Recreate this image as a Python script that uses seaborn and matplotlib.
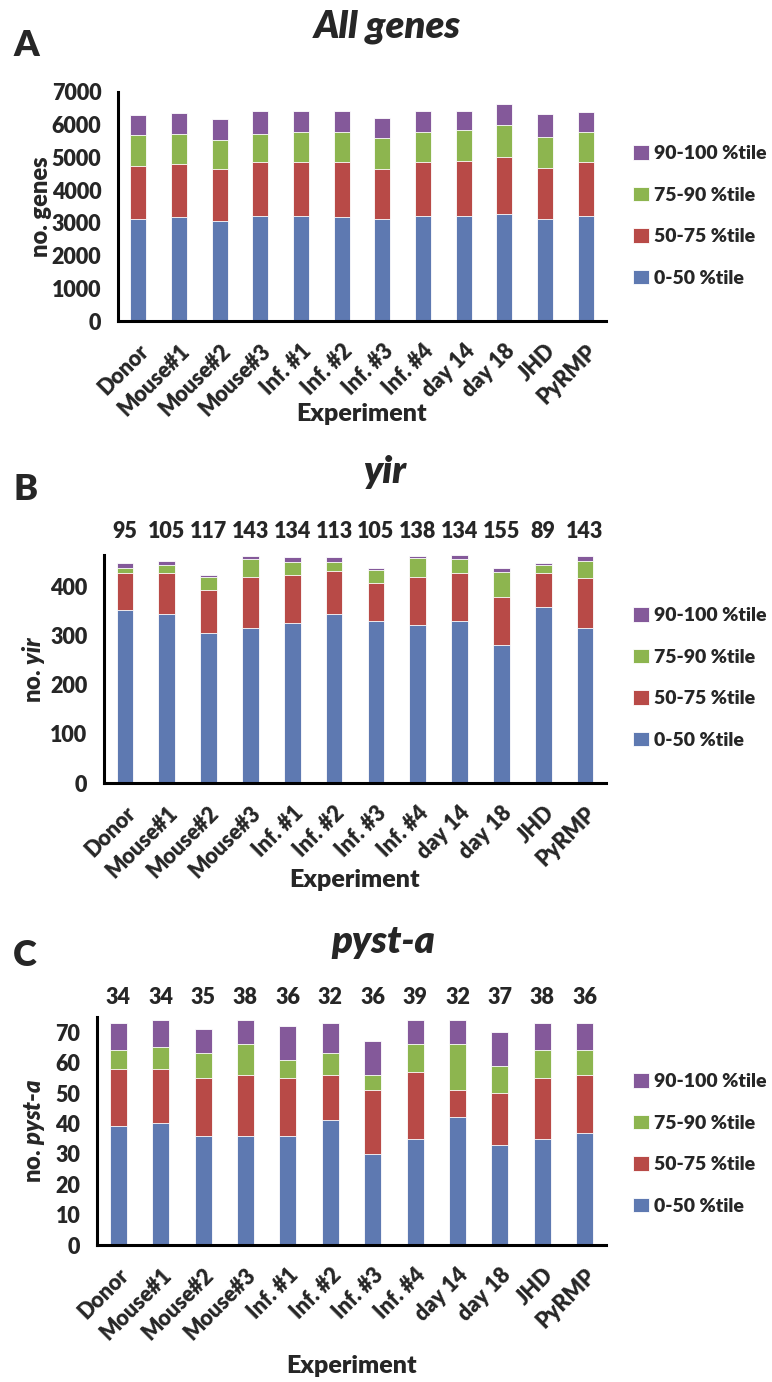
import numpy as np
import pandas as pd
import matplotlib
matplotlib.use('Agg')
import matplotlib.pyplot as plt
import matplotlib.transforms as mtransforms
from matplotlib.patches import Patch
import seaborn as sns

# categories
experiments = ['Donor', 'Mouse#1', 'Mouse#2', 'Mouse#3', 'Inf. #1', 'Inf. #2',
               'Inf. #3', 'Inf. #4', 'day 14', 'day 18', 'JHD', 'PyRMP']
tiles = ['0-50 %tile', '50-75 %tile', '75-90 %tile', '90-100 %tile']
colors = ['#5E79B1', '#B84A47', '#8DB54F', '#84599A']

# A - all genes (segment sizes, bottom to top)
all_0_50 = [3120, 3170, 3070, 3220, 3220, 3170, 3120, 3220, 3220, 3280, 3120, 3220]
all_50_75 = [1620, 1620, 1570, 1630, 1630, 1680, 1520, 1630, 1680, 1720, 1570, 1630]
all_75_90 = [940, 940, 890, 880, 930, 930, 940, 930, 930, 990, 940, 930]
all_90_100 = [620, 640, 630, 690, 640, 640, 630, 640, 590, 630, 690, 620]

# B - yir
yir_0_50 = [352, 344, 306, 317, 327, 344, 330, 323, 330, 281, 359, 317]
yir_50_75 = [76, 84, 88, 104, 97, 88, 77, 98, 98, 98, 69, 101]
yir_75_90 = [10, 17, 26, 35, 27, 19, 28, 38, 28, 52, 17, 34]
yir_90_100 = [11, 7, 4, 6, 9, 9, 4, 4, 10, 7, 4, 10]
yir_counts = [95, 105, 117, 143, 134, 113, 105, 138, 134, 155, 89, 143]

# C - pyst-a
pyst_0_50 = [39, 40, 36, 36, 36, 41, 30, 35, 42, 33, 35, 37]
pyst_50_75 = [19, 18, 19, 20, 19, 15, 21, 22, 9, 17, 20, 19]
pyst_75_90 = [6, 7, 8, 10, 6, 7, 5, 9, 15, 9, 9, 8]
pyst_90_100 = [9, 9, 8, 8, 11, 10, 11, 8, 8, 11, 9, 9]
pyst_counts = [34, 34, 35, 38, 36, 32, 36, 39, 32, 37, 38, 36]

W, H = 772, 1382
WT = 'heavy'
sns.set_style('white')
plt.rcParams['font.family'] = ['Lato', 'DejaVu Sans']
plt.rcParams['font.weight'] = WT
plt.rcParams['axes.labelweight'] = WT
plt.rcParams['mathtext.fontset'] = 'custom'
plt.rcParams['mathtext.rm'] = 'Lato:' + WT
plt.rcParams['mathtext.it'] = 'Lato:italic:' + WT

fig = plt.figure(figsize=(W / 100, H / 100), dpi=100)


def fx(px):
    return px / W


def fy(py):
    return 1 - py / H


def panel(box, segs, ylim, yticks, minor, title, letter, ylabel, counts, pos):
    left, top, right, bottom = box
    ax = fig.add_axes([fx(left), fy(bottom), fx(right - left), (bottom - top) / H])
    df = pd.DataFrame({'Experiment': experiments})
    cum = np.cumsum(np.array(segs), axis=0)
    # stacked by overlaying cumulative totals, tallest first
    for k in range(3, -1, -1):
        df['v'] = cum[k]
        sns.barplot(data=df, x='Experiment', y='v', color=colors[k], width=0.4,
                    saturation=1, edgecolor='white', linewidth=0.6,
                    errorbar=None, ax=ax)
    ax.set_xlim(-0.5, len(experiments) - 0.5)
    ax.set_ylim(*ylim)
    ax.set_yticks(yticks)
    if minor is not None:
        ax.set_yticks(minor, minor=True)
    ax.set_xticks(range(len(experiments)))
    ax.set_xticklabels(experiments, rotation=45, ha='right', rotation_mode='anchor')
    ax.set_xticks(np.arange(-0.5, len(experiments), 1), minor=True)
    ax.tick_params(axis='x', which='major', length=0, pad=14, labelsize=15.5)
    ax.tick_params(axis='x', which='minor', length=7, width=2, direction='out')
    ax.tick_params(axis='y', which='both', length=6, width=2, direction='out',
                   labelsize=15.5, pad=6)
    for s in ['top', 'right']:
        ax.spines[s].set_visible(False)
    for s in ['left', 'bottom']:
        ax.spines[s].set_linewidth(2.2)
        ax.spines[s].set_color('black')
    ax.set_xlabel('Experiment', fontsize=18, fontweight=WT)
    ax.xaxis.set_label_coords(fx((left + right) / 2), fy(pos['xlab']), transform=fig.transFigure)
    ax.set_ylabel(ylabel, fontsize=17, fontweight=WT)
    ax.yaxis.set_label_coords(fx(pos['ylab']), fy((top + bottom) / 2), transform=fig.transFigure)

    fig.text(fx(pos['title'][0]), fy(pos['title'][1]), title, fontsize=27.5,
             fontweight=WT, fontstyle='italic', ha='center', va='center')
    fig.text(fx(13), fy(pos['letter']), letter, fontsize=26, fontweight=WT,
             ha='left', va='center')
    if counts is not None:
        tr = mtransforms.blended_transform_factory(ax.transData, fig.transFigure)
        for i, c in enumerate(counts):
            ax.text(i, fy(pos['counts']), str(c), transform=tr, ha='center',
                    va='center', fontsize=15.5, fontweight=WT)
    handles = [Patch(facecolor=colors[k], edgecolor='white', linewidth=0.6)
               for k in range(3, -1, -1)]
    fig.legend(handles, tiles[::-1], loc='upper left',
               bbox_to_anchor=(fx(633), fy(pos['legend'])),
               bbox_transform=fig.transFigure, frameon=False,
               handlelength=0.8, handleheight=0.8, handletextpad=0.3,
               labelspacing=1.25, borderpad=0, borderaxespad=0,
               prop={'weight': WT, 'size': 14})
    return ax


panel((118, 92, 606, 321),
      [all_0_50, all_50_75, all_75_90, all_90_100],
      (0, 7000), np.arange(0, 7001, 1000), None,
      'All genes', 'A', 'no. genes', None,
      {'xlab': 403, 'ylab': 52, 'title': (387, 27), 'letter': 45, 'legend': 145})

panel((104, 555, 606, 783),
      [yir_0_50, yir_50_75, yir_75_90, yir_90_100],
      (0, 465), np.arange(0, 401, 100), np.arange(50, 465, 100),
      'yir', 'B', r'no. $yir$', yir_counts,
      {'xlab': 869, 'ylab': 47, 'title': (385, 472), 'letter': 490,
       'counts': 532, 'legend': 607})

panel((97, 1017, 606, 1245),
      [pyst_0_50, pyst_50_75, pyst_75_90, pyst_90_100],
      (0, 75), np.arange(0, 71, 10), None,
      'pyst-a', 'C', r'no. $pyst$-$a$', pyst_counts,
      {'xlab': 1355, 'ylab': 47, 'title': (383, 942), 'letter': 955,
       'counts': 997, 'legend': 1073})

fig.savefig('out.png', dpi=100)
